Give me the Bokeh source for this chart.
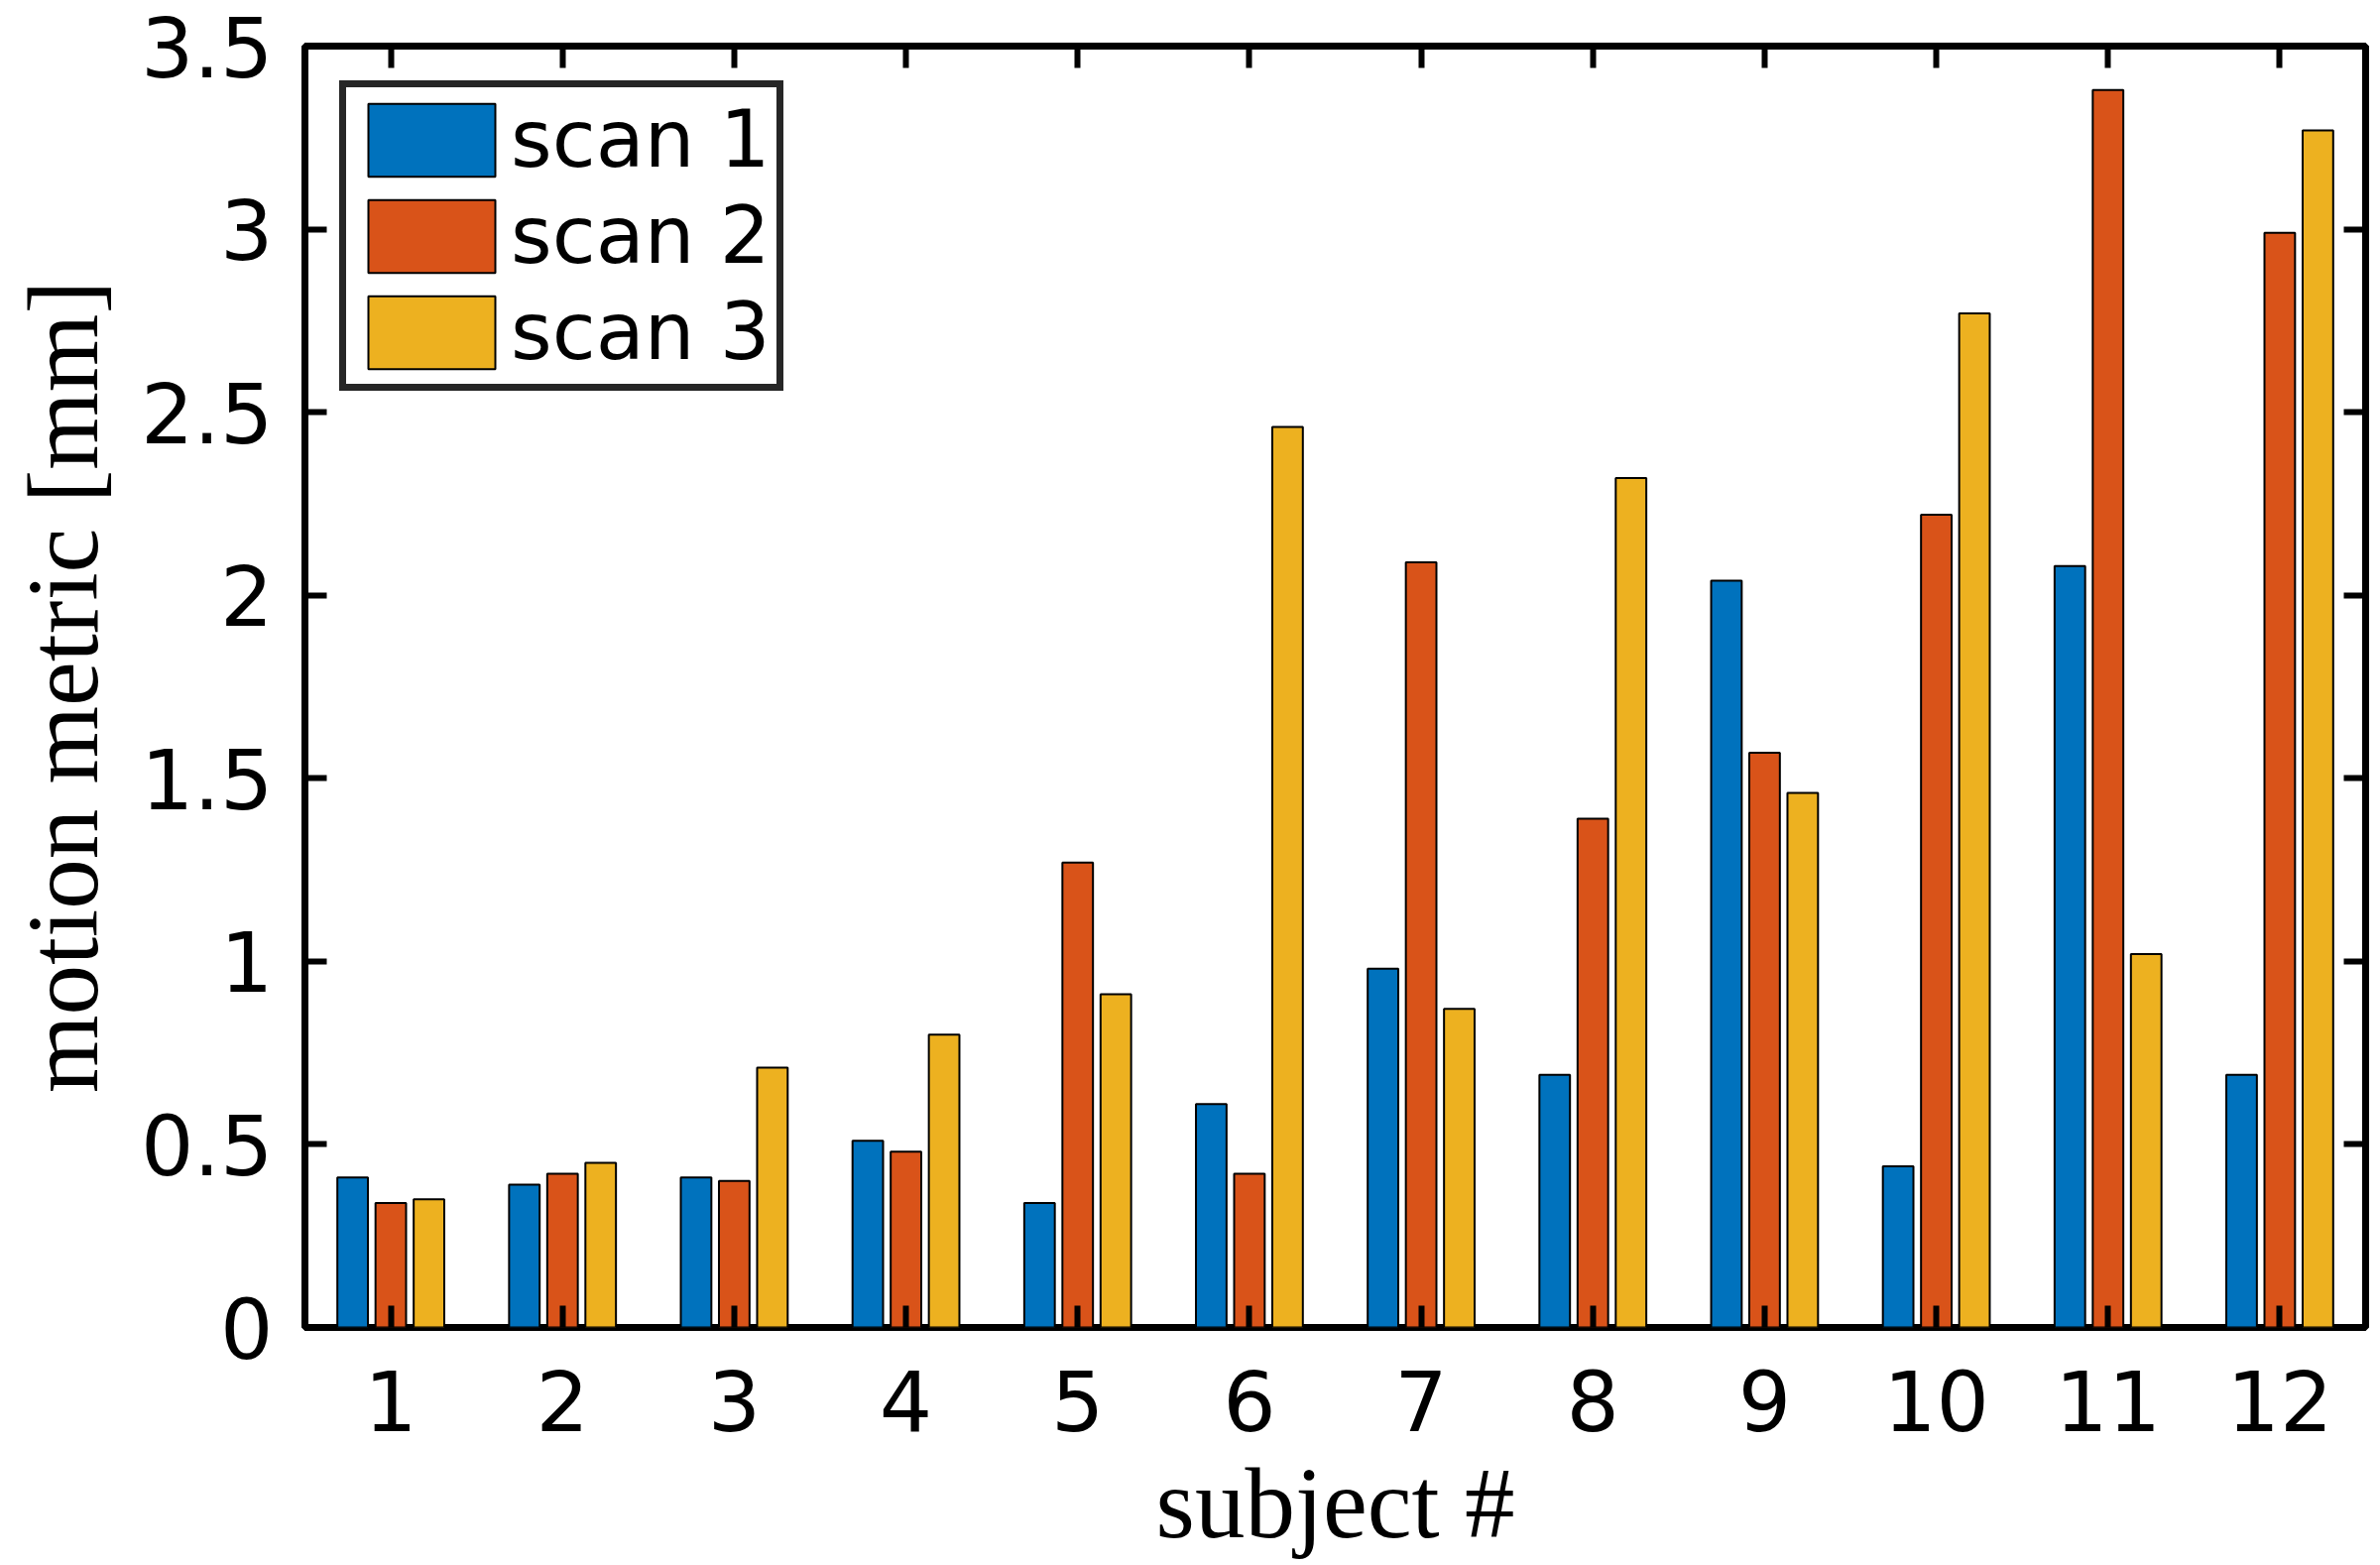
from bokeh.plotting import figure
from bokeh.models import (ColumnDataSource, FixedTicker, LinearAxis, Range1d,
                          Legend, LegendItem, PrintfTickFormatter)
from bokeh.transform import dodge
from bokeh.embed import file_html
from bokeh.resources import INLINE

subjects = [1, 2, 3, 4, 5, 6, 7, 8, 9, 10, 11, 12]
scan1 = [0.41, 0.39, 0.41, 0.51, 0.34, 0.61, 0.98, 0.69, 2.04, 0.44, 2.08, 0.69]
scan2 = [0.34, 0.42, 0.40, 0.48, 1.27, 0.42, 2.09, 1.39, 1.57, 2.22, 3.38, 2.99]
scan3 = [0.35, 0.45, 0.71, 0.80, 0.91, 2.46, 0.87, 2.32, 1.46, 2.77, 1.02, 3.27]
series_names = ["scan 1", "scan 2", "scan 3"]
y_ticks = [0, 0.5, 1, 1.5, 2, 2.5, 3, 3.5]
colors = ["#0072BD", "#D95319", "#EDB120"]

src = ColumnDataSource(dict(subject=subjects, scan1=scan1, scan2=scan2, scan3=scan3))

p = figure(frame_width=2078, frame_height=1292,
           x_range=Range1d(0.5, 12.5), y_range=Range1d(0, 3.5),
           output_backend="svg", toolbar_location=None,
           min_border_left=307, min_border_right=10,
           min_border_top=46, min_border_bottom=220)
p.background_fill_color = "white"
p.border_fill_color = "white"
p.xgrid.visible = False
p.ygrid.visible = False
p.outline_line_color = "black"
p.outline_line_width = 7
p.outline_line_alpha = 1.0

offsets = [-0.2222, 0.0, 0.2222]
renderers = []
for col, off, c in zip(["scan1", "scan2", "scan3"], offsets, colors):
    r = p.vbar(x=dodge("subject", off), top=col, width=0.178, bottom=0,
               source=src, fill_color=c, line_color="black", line_width=2)
    renderers.append(r)

tick_font = "DejaVu Sans"
tick_size = "84px"

def style_axis(ax, show_labels=True):
    ax.axis_line_color = None
    ax.major_tick_in = 22
    ax.major_tick_out = 0
    ax.major_tick_line_width = 6
    ax.major_tick_line_color = "black"
    ax.minor_tick_line_color = None
    ax.major_label_text_font = tick_font
    if show_labels:
        ax.major_label_text_font_size = tick_size
        ax.major_label_text_color = "black"
    else:
        ax.major_label_text_font_size = "0px"
        ax.major_label_text_color = None
        ax.major_label_standoff = 0

xax = p.xaxis[0]
xax.ticker = FixedTicker(ticks=subjects)
style_axis(xax)
xax.major_label_standoff = 42
xax.axis_label = "subject #"
xax.axis_label_text_font = "Liberation Serif"
xax.axis_label_text_font_size = "101px"
xax.axis_label_text_font_style = "normal"
xax.axis_label_text_color = "black"
xax.axis_label_standoff = 14

yax = p.yaxis[0]
yax.ticker = FixedTicker(ticks=y_ticks)
yax.formatter = PrintfTickFormatter(format="%g")
style_axis(yax)
yax.major_label_standoff = 32
yax.axis_label = "motion metric [mm]"
yax.axis_label_text_font = "Liberation Serif"
yax.axis_label_text_font_size = "101px"
yax.axis_label_text_font_style = "normal"
yax.axis_label_text_color = "black"
yax.axis_label_standoff = 19

top = LinearAxis(ticker=FixedTicker(ticks=subjects))
style_axis(top, show_labels=False)
p.add_layout(top, "above")
right = LinearAxis(ticker=FixedTicker(ticks=y_ticks))
style_axis(right, show_labels=False)
p.add_layout(right, "right")

legend = Legend(items=[LegendItem(label=n, renderers=[r]) for n, r in zip(series_names, renderers)],
                location="top_left", margin=35, padding=6, spacing=4,
                glyph_width=160, glyph_height=92, label_standoff=0,
                label_text_font=tick_font, label_text_font_size="80px",
                label_text_color="black",
                border_line_color="#262626", border_line_width=7,
                border_line_alpha=1.0,
                background_fill_color="white", background_fill_alpha=1.0)
p.add_layout(legend)

open("out.html", "w").write(file_html(p, INLINE))
